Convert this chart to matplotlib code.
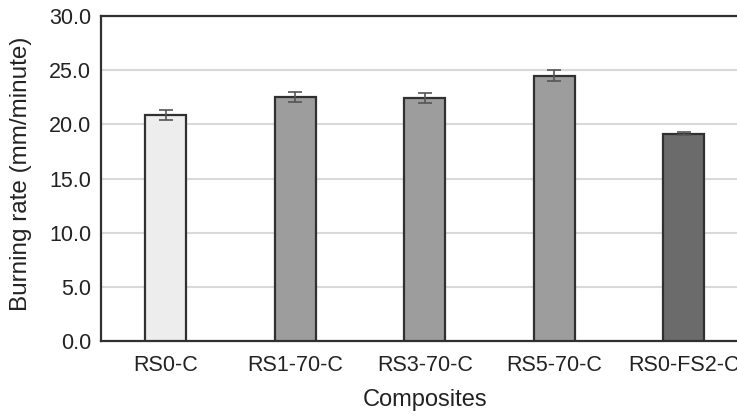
import matplotlib.pyplot as plt
import numpy as np

# burning rate of the composites
composites = ['RS0-C', 'RS1-70-C', 'RS3-70-C', 'RS5-70-C', 'RS0-FS2-C']
burning_rate = [20.85, 22.55, 22.45, 24.5, 19.15]
rate_error = [0.45, 0.48, 0.43, 0.52, 0.12]
bar_colors = ['#ededed', '#9d9d9d', '#9d9d9d', '#9d9d9d', '#6b6b6b']
yticks = [0, 5, 10, 15, 20, 25, 30]


def main():
    plt.rcParams['font.family'] = ['Liberation Sans', 'DejaVu Sans']

    f = plt.figure(figsize=(7.37, 4.16), dpi=100)
    axes = f.add_axes([0.137, 0.180, 0.8786, 0.7813])

    x = np.arange(len(composites))
    axes.bar(x, burning_rate, width=0.32, color=bar_colors,
             edgecolor='#303030', linewidth=1.6, zorder=3)
    axes.errorbar(x, burning_rate, yerr=rate_error, fmt='none',
                  ecolor='#555555', elinewidth=1.2, capsize=5, capthick=1.2, zorder=4)

    # axis styling
    axes.set_xlim(-0.5, len(composites) - 0.5)
    axes.set_ylim(0, 30)
    axes.set_yticks(yticks)
    axes.set_yticklabels([f'{v:.1f}' for v in yticks])
    axes.set_xticks(x)
    axes.set_xticklabels(composites)
    axes.tick_params(axis='both', length=0, labelsize=15.5, colors='#222222', pad=7)
    axes.tick_params(axis='x', pad=10)
    axes.yaxis.grid(True, color='#d9d9d9', linewidth=1.5, zorder=0)
    axes.set_axisbelow(True)
    for side in ['left', 'top', 'bottom', 'right']:
        axes.spines[side].set_color('#303030')
        axes.spines[side].set_linewidth(1.6)

    axes.set_xlabel('Composites', fontsize=17, color='#222222', labelpad=9)
    axes.set_ylabel('Burning rate (mm/minute)', fontsize=17.5, color='#222222')
    axes.yaxis.set_label_coords(-0.106, 0.515)

    f.savefig('out.png', dpi=100)


if __name__ == '__main__':
    main()
